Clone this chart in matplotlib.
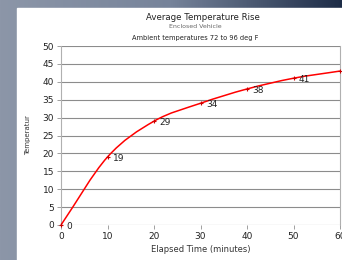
import numpy as np
from matplotlib import pyplot as plt
from matplotlib.path import Path
from matplotlib.patches import PathPatch, Rectangle
from matplotlib.colors import LinearSegmentedColormap

minutes = [0, 10, 20, 30, 40, 50, 60]
temps = [0, 19, 29, 34, 38, 41, 43]
point_labels = ["0", "19", "29", "34", "38", "41", "43"]


def smooth_path(xs, ys, tension=1 / 6):
    # catmull-rom style bezier through the points (like the spreadsheet's smoothed line)
    pts = np.column_stack([xs, ys]).astype(float)
    verts = [pts[0]]
    codes = [Path.MOVETO]
    n = len(pts)
    for i in range(n - 1):
        p1 = pts[i]
        p2 = pts[i + 1]
        p0 = pts[i - 1] if i > 0 else 2 * p1 - p2
        p3 = pts[i + 2] if i + 2 < n else 2 * p2 - p1
        verts += [p1 + (p2 - p0) * tension, p2 - (p3 - p1) * tension, p2]
        codes += [Path.CURVE4] * 3
    return Path(verts, codes)


fig = plt.figure(figsize=(3.42, 2.60), dpi=100)

# background: grey frame with darker gradient on top
bg = fig.add_axes([0, 0, 1, 1])
grad = np.linspace(0, 1, 256).reshape(1, -1)
bg.imshow(grad, aspect="auto", extent=[0, 1, 0, 1],
          cmap=LinearSegmentedColormap.from_list(
              "bg", ["#8c96a8", "#76839a", "#1d2c47"]))
bg.add_patch(Rectangle((17 / 342, 0), 1, 1 - 8 / 260, color="white", zorder=2))
bg.set_xlim(0, 1)
bg.set_ylim(0, 1)
bg.axis("off")

ax = fig.add_axes([61 / 342, 1 - 225 / 260, 279 / 342, 179 / 260])
ax.set_facecolor("none")
ax.set_xlim(0, 60)
ax.set_ylim(0, 50)
ax.set_xticks(range(0, 61, 10))
ax.set_yticks(range(0, 51, 5))
ax.grid(axis="y", color="#8c8c8c", linewidth=0.8)
ax.set_axisbelow(True)
for side in ["top", "bottom"]:
    ax.spines[side].set_visible(False)
ax.spines["left"].set_color("#b0b0b0")
ax.spines["right"].set_color("#b0b0b0")
ax.tick_params(labelsize=6.5, length=3, width=0.6, color="#909090",
               labelcolor="#222222", pad=2)

ax.add_patch(PathPatch(smooth_path(minutes, temps), facecolor="none",
                       edgecolor="red", linewidth=1.1, zorder=3, clip_on=False))
ax.plot(minutes, temps, linestyle="none", marker="+", markersize=3,
        color="#cc0000", markeredgewidth=0.8, zorder=4, clip_on=False)
for x, y, lab in zip(minutes, temps, point_labels):
    ax.annotate(lab, (x, y), xytext=(4, -1), textcoords="offset points",
                fontsize=6.5, color="#222222", va="center", ha="left",
                annotation_clip=False)

ax.set_xlabel("Elapsed Time (minutes)", fontsize=6, color="#333333", labelpad=3)
ax.set_ylabel("Temperatur", fontsize=5, color="#333333", labelpad=8)

fig.text(203 / 342, 1 - 17 / 260, "Average Temperature Rise", fontsize=6.2,
         ha="center", va="center", color="#222222")
fig.text(195 / 342, 1 - 26 / 260, "Enclosed Vehicle", fontsize=4.5,
         ha="center", va="center", color="#666666")
fig.text(195 / 342, 1 - 38 / 260, "Ambient temperatures 72 to 96 deg F",
         fontsize=4.8, ha="center", va="center", color="#222222")

fig.savefig("out.png", dpi=100)
